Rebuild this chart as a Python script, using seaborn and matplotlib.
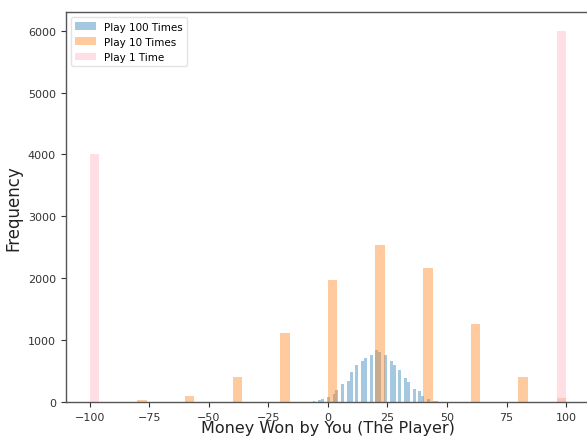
import numpy as np
import pandas as pd
import seaborn as sns
from matplotlib import pyplot as plt

# Play 1 Time: outcome of a single game
one_values = [-100, 100]
one_counts = [4000, 6000]

# Play 10 Times: average winnings per game
ten_values = [-100, -80, -60, -40, -20, 0, 20, 40, 60, 80, 100]
ten_counts = [1, 28, 95, 405, 1115, 1972, 2538, 2165, 1258, 412, 64]

# Play 100 Times: average winnings per game
hundred_values = [-10, -8, -6, -4, -2, 0, 2, 4, 6, 8, 10, 12, 14, 16, 18, 20,
                  22, 24, 26, 28, 30, 32, 34, 36, 38, 40, 42, 44, 46, 48, 50]
hundred_counts = [1, 8, 22, 38, 49, 81, 135, 200, 286, 334, 485, 593, 658, 717, 755, 835,
                  808, 765, 658, 593, 512, 388, 323, 205, 172, 97, 54, 22, 12, 4, 1]

fig = plt.figure(figsize=(5.87, 4.39), dpi=100)
ax = fig.add_axes([0.112, 0.082, 0.893, 0.888])

sns.histplot(x=hundred_values, weights=hundred_counts, bins=50, color="tab:blue",
             alpha=0.4, linewidth=0, ax=ax, label="Play 100 Times")
sns.histplot(x=ten_values, weights=ten_counts, bins=50, color="tab:orange",
             alpha=0.4, linewidth=0, ax=ax, label="Play 10 Times")
sns.histplot(x=one_values, weights=one_counts, bins=50, color="pink",
             alpha=0.5, linewidth=0, ax=ax, label="Play 1 Time")

ax.set_xlim(-110, 110)
ax.set_ylim(0, 6300)
ax.set_xticks([-100, -75, -50, -25, 0, 25, 50, 75, 100])
ax.set_yticks([0, 1000, 2000, 3000, 4000, 5000, 6000])

ax.set_xlabel("Money Won by You (The Player)", fontsize=11.5, color="#222222", labelpad=-1)
ax.set_ylabel("Frequency", fontsize=12, color="#222222", labelpad=4)
ax.tick_params(labelsize=8, colors="#333333", length=3.5, width=0.8)
for spine in ax.spines.values():
    spine.set_color("#555555")
    spine.set_linewidth(1.0)

ax.legend(loc="upper left", fontsize=7.5, framealpha=0.8, edgecolor="#dddddd")

fig.savefig("out.png", dpi=100)
